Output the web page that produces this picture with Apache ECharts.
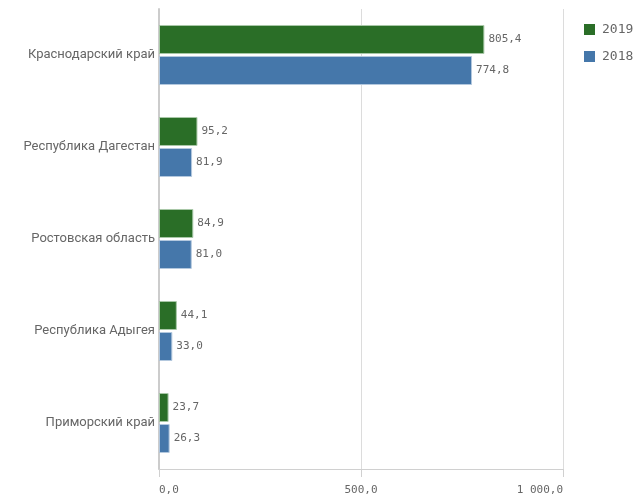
<!DOCTYPE html>
<html><head><meta charset="utf-8">
<script src="https://cdn.jsdelivr.net/npm/echarts@6/dist/echarts.min.js"></script>
<style>html,body{margin:0;padding:0;background:#fff}#c{width:637px;height:499px}</style>
</head><body><div id="c"></div>
<script>
var categories = ['Краснодарский край','Республика Дагестан','Ростовская область','Республика Адыгея','Приморский край'];
var values2019 = [805.4, 95.2, 84.9, 44.1, 23.7];
var values2018 = [774.8, 81.9, 81.0, 33.0, 26.3];
var seriesNames = ['2019','2018'];
var fmt = function(v){
  var s = Number(v).toFixed(1).replace('.', ',');
  var parts = s.split(',');
  parts[0] = parts[0].replace(/\B(?=(\d{3})+(?!\d))/g, ' ');
  return parts.join(',');
};
var chart = echarts.init(document.getElementById('c'));
var mono = 'DejaVu Sans Mono';
chart.setOption({
  animation: false,
  grid: {left: 159, right: 74, top: 9, bottom: 30},
  legend: {
    orient: 'vertical', left: 579, top: 18, itemWidth: 11, itemHeight: 11, itemGap: 14,
    icon: 'rect',
    itemStyle: {borderWidth: 0},
    textStyle: {fontFamily: mono, fontSize: 13, color: '#666', padding: [0,0,0,2]},
    data: seriesNames
  },
  xAxis: {
    type: 'value', min: 0, max: 1000, interval: 500,
    axisLine: {show: true, lineStyle: {color: '#d0d0d0', width: 1}},
    axisTick: {show: true, length: 8, lineStyle: {color: '#d0d0d0'}},
    splitLine: {show: true, lineStyle: {color: '#dcdcdc', width: 1}},
    axisLabel: {fontFamily: mono, fontSize: 11, color: '#666', margin: 16,
      alignMinLabel: 'left', alignMaxLabel: 'right', formatter: fmt}
  },
  yAxis: {
    type: 'category', data: categories, inverse: true,
    axisLine: {show: true, lineStyle: {color: '#cccccc', width: 2}},
    axisTick: {show: false},
    axisLabel: {fontFamily: 'Roboto', fontSize: 13, color: '#666', margin: 4}
  },
  series: [
    {name: seriesNames[0], type: 'bar', data: values2019, barWidth: 29, barGap: '7%',
     itemStyle: {color: '#2a6e27', borderColor: '#a9c9a8', borderWidth: 1},
     label: {show: true, position: 'right', distance: 4, fontFamily: mono, fontSize: 11, color: '#666', formatter: function(p){return fmt(p.value);}}},
    {name: seriesNames[1], type: 'bar', data: values2018, barWidth: 29,
     itemStyle: {color: '#4577aa', borderColor: '#b3c8de', borderWidth: 1},
     label: {show: true, position: 'right', distance: 4, fontFamily: mono, fontSize: 11, color: '#666', formatter: function(p){return fmt(p.value);}}}
  ]
});
</script></body></html>
